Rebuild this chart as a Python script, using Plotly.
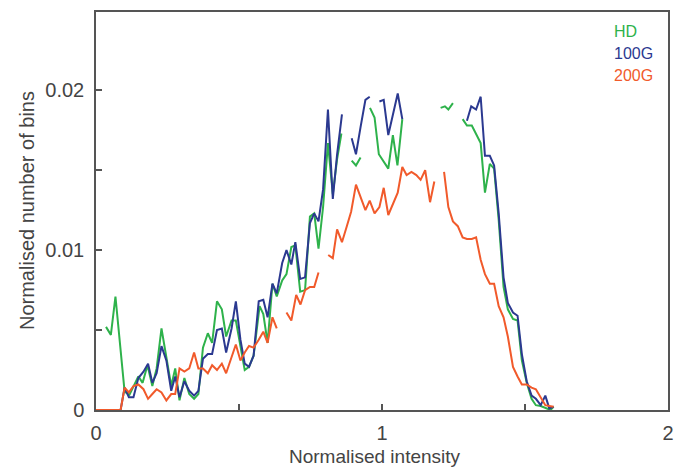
import plotly.graph_objects as go

# ---- data ----
hd_x = [0.035, 0.052, 0.068, 0.1, 0.117, 0.148, 0.163, 0.18, 0.197, 0.212, 0.229, 0.246, 0.263, 0.277,
        0.292, 0.309, 0.326, 0.343, 0.358, 0.374, 0.391, 0.406, 0.423, 0.44, 0.455, 0.474, 0.489, 0.505, 0.52,
        0.535, 0.551, 0.572, 0.585, 0.6, 0.617, 0.632, 0.651, 0.666, 0.683, 0.697, 0.714, 0.731, 0.748, 0.763,
        0.778, 0.794, 0.811, 0.828, 0.843, 0.858, None,
        0.894, 0.909, 0.925, None,
        0.958, 0.974, 0.989, 1.005, 1.022, 1.038, 1.054, 1.071, None,
        1.205, 1.22, 1.232, 1.248, None,
        1.282, 1.297, 1.314, 1.329, 1.345, 1.36, 1.377, 1.392, 1.408, 1.425, 1.44, 1.458, 1.474, 1.489, 1.506,
        1.523, 1.538, 1.555, 1.574, 1.589, 1.6]
hd_y = [0.0052, 0.0047, 0.0071, 0.00115, 0.00095, 0.0021, 0.0017, 0.0028, 0.0015, 0.0026, 0.0051, 0.0034, 0.0015,
        0.0026, 0.0006, 0.002, 0.001, 0.0007, 0.001, 0.0039, 0.0048, 0.0042, 0.0068, 0.0063, 0.0046, 0.0056,
        0.0056, 0.004, 0.0025, 0.0027, 0.0034, 0.0065, 0.006, 0.0042, 0.0079, 0.0071, 0.0081, 0.0085, 0.0102,
        0.0103, 0.0074, 0.0075, 0.0121, 0.0123, 0.0101, 0.0127, 0.0167, 0.0135, 0.0157, 0.0173, None,
        0.0156, 0.0153, 0.0158, None,
        0.0189, 0.0183, 0.016, 0.0156, 0.0151, 0.0172, 0.0153, 0.0182, None,
        0.0189, 0.019, 0.0188, 0.0192, None,
        0.0182, 0.0178, 0.0178, 0.0173, 0.0167, 0.0136, 0.0154, 0.0151, 0.0119, 0.0077, 0.0063, 0.0057, 0.0056,
        0.0031, 0.0017, 0.0007, 0.0003, 0.00025, 0.0001, 0.0, 0.0002]

g100_x = [0.086, 0.1, 0.115, 0.131, 0.148, 0.166, 0.182, 0.197, 0.212, 0.229, 0.246, 0.263, 0.277, 0.292, 0.309,
          0.326, 0.343, 0.358, 0.374, 0.391, 0.406, 0.423, 0.44, 0.455, 0.474, 0.489, 0.505, 0.52, 0.535, 0.551,
          0.569, 0.585, 0.6, 0.617, 0.632, 0.651, 0.666, 0.683, 0.697, 0.714, 0.731, 0.748, 0.763, 0.778, 0.794,
          0.811, 0.828, 0.843, 0.86, None,
          0.894, 0.909, 0.925, 0.942, 0.957, None,
          0.991, 1.006, 1.022, 1.038, 1.055, 1.071, None,
          1.297, 1.312, 1.329, 1.345, 1.36, 1.377, 1.392, 1.408, 1.425, 1.44, 1.458, 1.474, 1.489, 1.506, 1.523,
          1.538, 1.555, 1.571, 1.585, 1.6]
g100_y = [0.0, 0.0014, 0.0008, 0.0008, 0.002, 0.0024, 0.0029, 0.0017, 0.0023, 0.004, 0.0031, 0.0012, 0.0021, 0.0008,
          0.0018, 0.0012, 0.0009, 0.0012, 0.0032, 0.0035, 0.0035, 0.005, 0.0051, 0.0036, 0.0051, 0.0068, 0.0044,
          0.0029, 0.0027, 0.0034, 0.0068, 0.0069, 0.0058, 0.0079, 0.0073, 0.0092, 0.01, 0.0091, 0.0105, 0.0082,
          0.0083, 0.0117, 0.0123, 0.0118, 0.0138, 0.0188, 0.0132, 0.016, 0.0185, None,
          0.017, 0.016, 0.0177, 0.0194, 0.0196, None,
          0.0193, 0.0194, 0.0172, 0.0185, 0.0198, 0.0182, None,
          0.0181, 0.019, 0.0188, 0.0196, 0.0159, 0.0159, 0.0153, 0.0123, 0.0083, 0.0067, 0.0061, 0.0059, 0.0035,
          0.0018, 0.0009, 0.0007, 0.0003, 0.0009, 0.0001, 0.0002]

g200_x = [0.0, 0.086, 0.1, 0.115, 0.131, 0.148, 0.166, 0.182, 0.197, 0.212, 0.229, 0.246, 0.263, 0.277, 0.292,
          0.309, 0.326, 0.343, 0.358, 0.374, 0.391, 0.406, 0.423, 0.44, 0.455, 0.474, 0.489, 0.505, 0.52, 0.535,
          0.551, 0.569, 0.585, 0.6, 0.617, 0.632, None,
          0.666, 0.683, 0.7, 0.715, 0.731, 0.748, 0.763, 0.778, None,
          0.812, 0.828, 0.843, 0.86, 0.877, 0.892, 0.909, 0.925, 0.942, 0.957, 0.974, 0.991, 1.006, 1.022, 1.038,
          1.055, 1.071, 1.086, 1.103, 1.12, 1.135, 1.151, 1.168, 1.183, None,
          1.217, 1.232, 1.248, 1.265, 1.282, 1.297, 1.314, 1.329, 1.345, 1.36, 1.377, 1.392, 1.408, 1.425, 1.44,
          1.458, 1.474, 1.489, 1.506, 1.523, 1.538, 1.555, 1.571, 1.585, 1.6]
g200_y = [0.0, 0.0, 0.0014, 0.0011, 0.0015, 0.0016, 0.0013, 0.0007, 0.001, 0.0013, 0.0011, 0.0006, 0.001, 0.001,
          0.0026, 0.0024, 0.0026, 0.0036, 0.0026, 0.0026, 0.0023, 0.0028, 0.0025, 0.0029, 0.0023, 0.0033, 0.0041,
          0.0031, 0.0036, 0.004, 0.0039, 0.0044, 0.0049, 0.0042, 0.0058, 0.0051, None,
          0.0061, 0.0056, 0.0072, 0.0066, 0.0075, 0.0077, 0.0077, 0.0086, None,
          0.0097, 0.0095, 0.0113, 0.0105, 0.0115, 0.0124, 0.0141, 0.0133, 0.0125, 0.0131, 0.0123, 0.0127, 0.0139,
          0.0122, 0.0129, 0.0136, 0.0152, 0.0147, 0.0149, 0.0147, 0.0144, 0.015, 0.013, 0.0143, None,
          0.0149, 0.0127, 0.0118, 0.0115, 0.0108, 0.0107, 0.0107, 0.0108, 0.0094, 0.0085, 0.0079, 0.0079, 0.0065,
          0.0058, 0.0046, 0.0027, 0.0021, 0.0016, 0.0016, 0.0014, 0.0013, 0.0008, 0.0003, 0.00025, 0.0002]

x_tickvals = [0, 0.5, 1, 1.5, 2]
x_ticktext = ["0", "", "1", "", "2"]
y_tickvals = [0, 0.005, 0.01, 0.015, 0.02]
y_ticktext = ["0", "", "0.01", "", "0.02"]
x_title = "Normalised intensity"
y_title = "Normalised number of bins"

series_names = ["HD", "100G", "200G"]
colors = ["#2eb24b", "#2b3990", "#f15a2b"]

fig = go.Figure()
for name, xs, ys, c in [("HD", hd_x, hd_y, colors[0]),
                        ("100G", g100_x, g100_y, colors[1]),
                        ("200G", g200_x, g200_y, colors[2])]:
    fig.add_trace(go.Scatter(x=xs, y=ys, mode="lines", name=name,
                             line=dict(color=c, width=2), connectgaps=False))

# text-only legend
for i, (name, c) in enumerate(zip(series_names, colors)):
    fig.add_annotation(xref="paper", yref="paper", x=0.902, y=0.952 - i * 0.0553,
                       text=name, showarrow=False, xanchor="left", yanchor="middle",
                       font=dict(size=16, color=c, family="Liberation Sans"))

# axis titles
fig.add_annotation(xref="paper", yref="paper", x=0.488, y=-0.1156, text=x_title, showarrow=False,
                   xanchor="center", yanchor="middle",
                   font=dict(size=19, color="#444444", family="Liberation Sans"))
fig.add_annotation(xref="paper", yref="paper", x=-0.1206, y=0.5, text=y_title, showarrow=False,
                   textangle=-90, xanchor="center", yanchor="middle",
                   font=dict(size=20, color="#444444", family="Liberation Sans"))

axis_common = dict(showline=True, linecolor="#555555", linewidth=1.5, mirror=True,
                   ticks="inside", ticklen=6, tickcolor="#555555", tickwidth=1.5,
                   showgrid=False, zeroline=False, automargin=False,
                   tickfont=dict(size=20, color="#444444", family="Liberation Sans"))

fig.update_layout(
    width=688, height=468,
    margin=dict(l=96, r=20, t=12, b=58),
    paper_bgcolor="white", plot_bgcolor="white",
    showlegend=False,
    font=dict(family="Liberation Sans", color="#444444"),
    xaxis=dict(range=[0, 2], tickvals=x_tickvals, ticktext=x_ticktext, ticklabelstandoff=4,
               **axis_common),
    yaxis=dict(range=[0, 0.0249], tickvals=y_tickvals, ticktext=y_ticktext, ticklabelstandoff=6,
               **axis_common),
)

fig.write_html("out.html")
